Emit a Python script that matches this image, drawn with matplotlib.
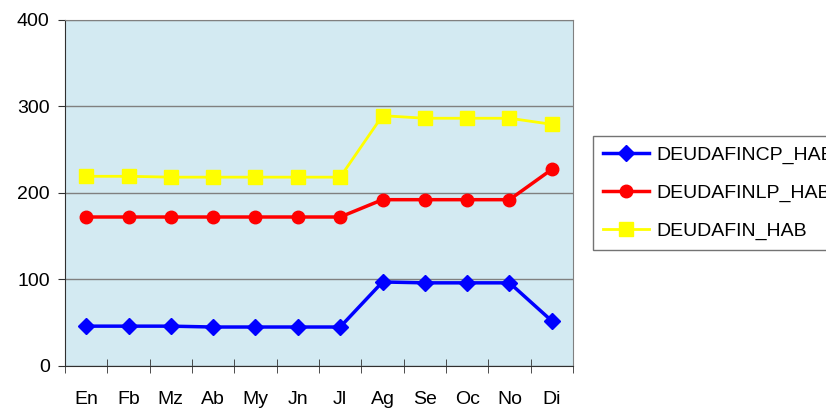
import matplotlib.pyplot as plt
import numpy as np

plt.rcParams['font.family'] = ['Liberation Sans', 'DejaVu Sans']

months = ['En', 'Fb', 'Mz', 'Ab', 'My', 'Jn', 'Jl', 'Ag', 'Se', 'Oc', 'No', 'Di']
cp = [46, 46, 46, 45, 45, 45, 45, 97, 96, 96, 96, 52]
lp = [172, 172, 172, 172, 172, 172, 172, 192, 192, 192, 192, 227]
total = [219, 219, 218, 218, 218, 218, 218, 289, 286, 286, 286, 279]

fig = plt.figure(figsize=(8.26, 4.08), dpi=100)
ax = fig.add_axes([65 / 826, 42 / 408, 508 / 826, 346.5 / 408])
ax.set_facecolor('#D3EAF2')

x = np.arange(len(months))
ax.plot(x, cp, color='#0000FF', lw=2.5, marker='D', ms=8, label='DEUDAFINCP_HAB')
ax.plot(x, lp, color='#FF0000', lw=2.5, marker='o', ms=9, label='DEUDAFINLP_HAB')
ax.plot(x, total, color='#FFFF00', lw=2, marker='s', ms=10.5, label='DEUDAFIN_HAB')

ax.set_xlim(-0.5, len(months) - 0.5)
ax.set_ylim(0, 400)
ax.set_yticks([0, 100, 200, 300, 400])
ax.set_xticks(x)
ax.set_xticklabels(months)
ax.set_xticks(np.arange(-0.5, len(months)), minor=True)
ax.tick_params(axis='x', which='major', length=0, pad=18, labelsize=14)
ax.tick_params(axis='x', which='minor', length=9.5, direction='inout', color='#303030')
ax.tick_params(axis='y', length=5, pad=6, labelsize=14, color='#303030')
ax.yaxis.grid(True, color='#808080', lw=1)
ax.set_axisbelow(True)
for s in ['top', 'right']:
    ax.spines[s].set_color('#808080')
for s in ['left', 'bottom']:
    ax.spines[s].set_color('#303030')

# legend runs past the right edge, as in the original export
fig.legend(loc='upper left', bbox_to_anchor=(593 / 826, 1 - 136 / 408),
           frameon=True, fancybox=False, edgecolor='#505050', fontsize=14,
           handlelength=2.4, handletextpad=0.36, borderpad=0.5,
           labelspacing=1.05, borderaxespad=0)

fig.savefig('out.png', dpi=100)
